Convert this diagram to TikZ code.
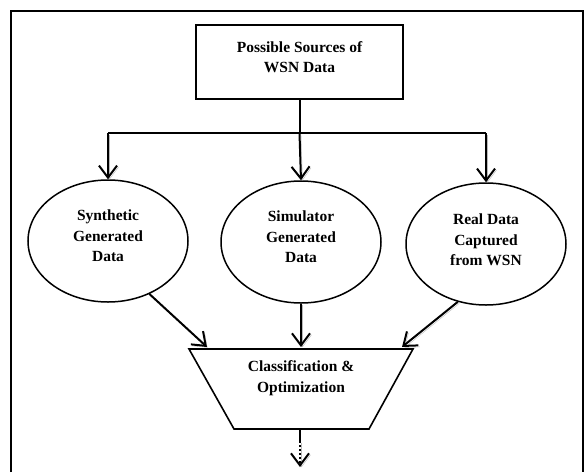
\documentclass[tikz,border=0pt]{standalone}
\usepackage{fontspec}
\setmainfont{Liberation Serif}
\usetikzlibrary{arrows.meta,shapes.geometric}
\begin{document}
\begin{tikzpicture}[x=1pt,y=-1pt,
  lbl/.style={font=\bfseries\fontsize{15.5}{20.5}\selectfont, align=center, inner sep=0pt},
  box/.style={draw, line width=1.6pt, minimum width=207pt, minimum height=74pt},
  oval/.style={draw, ellipse, line width=1.5pt, minimum width=160pt, minimum height=122pt, inner sep=0pt},
  conn/.style={line width=2pt},
  tipv/.style={-{Straight Barb[length=12pt,width=18pt,line width=2pt]}},
  shad/.style={preaction={draw=gray!55, transform canvas={shift={(1.5pt,-1.5pt)}}}},
  arr/.style={line width=2pt, tipv, shad},
  frame/.style={line width=2.5pt}
]
\useasboundingbox (0,0) rectangle (587,472);
% outer frame
\draw[frame] (11,472) -- (11,11) -- (583,11) -- (583,472);
% top box
\node[box] (src) at (299.5,62) {};
\node[lbl] (srct) at (299.5,57) {Possible Sources of\\WSN Data};
% ellipses
\node[oval] (sl) at (108,241) {};
\node[lbl] (slt) at (108,236) {Synthetic\\Generated\\Data};
\node[oval] (sm) at (301,242) {};
\node[lbl] (smt) at (301,237) {Simulator\\Generated\\Data};
\node[oval] (rl) at (486,244) {};
\node[lbl] (rlt) at (486,240) {Real Data\\Captured\\from WSN};
% distribution lines
\coordinate (hc) at (299.5,133);
\coordinate (hl) at (108,133);
\coordinate (hr) at (486,133);
\draw[conn] (src.south) -- (hc);
\draw[conn] (hl) -- (hr);
\draw[arr] (hl) -- (sl.north);
\draw[arr] (hc) -- (sm.north);
\draw[arr] (hr) -- (rl.north);
% trapezoid
\coordinate (t1) at (189,349);
\coordinate (t2) at (413,349);
\coordinate (t3) at (369,429);
\coordinate (t4) at (234,429);
\draw[line width=1.6pt] (t1) -- (t2) -- (t3) -- (t4) -- cycle;
\node[lbl] (cls) at (301,378) {Classification \&\\Optimization};
\coordinate (inl) at (207,347);
\coordinate (inm) at (301,347);
\coordinate (inr) at (402,347);
\draw[arr] (sl.-52) -- (inl);
\draw[arr] (sm.south) -- (inm);
\draw[arr] (rl.-116) -- (inr);
% output
\coordinate (ob) at (300,429);
\coordinate (os) at (300,441);
\coordinate (oe) at (300,467);
\draw[line width=2pt] (ob) -- (os);
\draw[line width=2pt, dash pattern=on 1.5pt off 2.5pt, tipv, shad] (os) -- (oe);
\end{tikzpicture}
\end{document}
